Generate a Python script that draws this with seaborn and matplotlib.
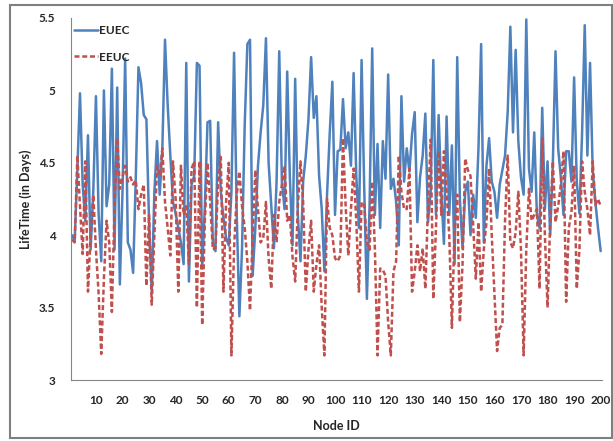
import matplotlib
matplotlib.use("Agg")
import matplotlib.pyplot as plt
import seaborn as sns
import pandas as pd
from matplotlib.patches import Rectangle
from matplotlib.ticker import FuncFormatter

node_ids = list(range(1, 201))

euec = [
    4.00, 3.96, 4.45, 4.98, 4.35, 4.10, 4.69, 3.90, 4.30, 4.96,
    4.15, 3.82, 5.00, 4.20, 4.35, 5.15, 3.90, 5.02, 3.66, 4.30,
    5.22, 3.95, 3.90, 3.74, 4.40, 5.16, 5.05, 4.83, 4.80, 4.09,
    3.61, 4.30, 4.65, 4.28, 4.60, 5.35, 4.90, 4.55, 4.23, 4.15,
    4.05, 3.95, 3.80, 5.19, 3.68, 4.35, 4.41, 5.19, 5.17, 3.77,
    4.20, 4.78, 4.79, 3.95, 3.89, 4.78, 4.30, 4.12, 3.98, 3.93,
    4.30, 5.26, 4.14, 3.44, 3.91, 4.76, 5.32, 5.35, 3.72, 4.05,
    4.48, 4.71, 4.90, 5.36, 4.50, 4.20, 3.91, 4.37, 5.27, 4.37,
    4.18, 5.13, 4.40, 3.93, 5.08, 4.14, 3.82, 4.37, 4.55, 4.80,
    5.23, 4.81, 4.96, 4.41, 4.18, 3.75, 4.28, 4.70, 5.06, 4.14,
    4.58, 4.59, 4.94, 4.60, 4.71, 4.48, 5.12, 4.41, 4.05, 5.21,
    4.32, 3.56, 4.20, 5.29, 4.14, 4.63, 4.05, 4.65, 4.39, 5.11,
    4.32, 4.39, 4.23, 3.93, 4.96, 4.37, 4.60, 4.44, 4.70, 4.85,
    4.09, 4.40, 4.55, 4.84, 4.09, 4.30, 5.21, 4.14, 4.83, 4.30,
    3.94, 4.82, 4.14, 4.62, 3.80, 5.23, 4.25, 3.91, 4.30, 4.37,
    4.00, 4.28, 4.12, 4.60, 5.32, 3.95, 4.48, 4.67, 4.37, 4.30,
    4.12, 4.35, 4.45, 4.55, 4.85, 5.44, 4.71, 5.28, 4.65, 4.40,
    4.28, 5.49, 4.46, 4.30, 4.71, 4.14, 4.05, 4.88, 4.18, 4.51,
    4.00, 4.50, 5.27, 4.60, 4.40, 4.14, 4.58, 4.58, 4.37, 5.09,
    4.37, 4.15, 4.70, 5.45, 4.55, 5.19, 4.45, 4.23, 4.05, 3.89,
]

eeuc = [
    3.97, 3.95, 4.55, 4.20, 3.87, 4.51, 3.61, 4.00, 4.28, 3.90,
    3.60, 3.18, 3.70, 4.10, 3.95, 3.47, 4.20, 4.67, 4.32, 4.40,
    4.48, 4.37, 4.40, 4.35, 4.38, 4.18, 4.28, 4.35, 3.65, 4.14,
    3.52, 4.00, 4.48, 4.41, 4.60, 4.23, 4.05, 3.86, 4.51, 4.25,
    3.61, 4.48, 4.14, 4.20, 3.80, 4.46, 4.51, 3.50, 4.51, 3.38,
    4.10, 4.50, 4.23, 3.90, 3.91, 4.37, 4.54, 3.61, 4.23, 4.50,
    3.17, 3.91, 4.28, 4.44, 4.20, 4.05, 3.82, 3.48, 4.00, 4.45,
    4.18, 3.95, 3.98, 4.23, 3.84, 3.63, 4.14, 3.95, 4.23, 4.35,
    4.48, 4.10, 4.14, 3.85, 3.68, 4.20, 4.51, 4.23, 3.61, 3.90,
    4.10, 3.61, 3.80, 3.93, 3.50, 3.17, 4.25, 4.05, 4.00, 3.84,
    3.82, 3.86, 4.67, 4.20, 3.86, 4.18, 4.46, 4.10, 3.61, 4.23,
    4.21, 3.95, 3.90, 4.37, 3.91, 3.17, 3.77, 3.76, 3.72, 3.40,
    3.17, 3.75, 3.82, 4.55, 4.30, 4.18, 4.18, 4.46, 3.61, 3.75,
    3.93, 3.75, 3.91, 3.63, 4.20, 4.66, 3.56, 4.05, 4.58, 4.14,
    4.58, 4.30, 4.00, 3.36, 4.05, 4.28, 3.40, 3.80, 4.53, 4.45,
    4.41, 4.07, 3.70, 4.09, 3.61, 3.90, 4.09, 4.46, 4.00, 3.60,
    3.20, 3.36, 3.38, 4.10, 4.55, 3.95, 3.91, 4.02, 4.30, 3.90,
    3.17, 3.90, 4.32, 4.10, 4.14, 4.18, 3.63, 4.67, 4.00, 3.50,
    4.10, 4.51, 4.09, 4.20, 4.35, 4.58, 3.54, 4.05, 4.16, 4.48,
    3.63, 3.90, 4.51, 4.30, 4.18, 4.00, 4.51, 4.21, 4.25, 4.20,
]

series_names = ["EUEC", "EEUC"]
x_ticks = list(range(10, 201, 10))
y_ticks = [3, 3.5, 4, 4.5, 5, 5.5]
x_label = "Node ID"
y_label = "LifeTime (in Days)"

sns.set_theme(style="white")
plt.rcParams["font.family"] = ["Lato", "DejaVu Sans"]

W, H = 613, 441
fig = plt.figure(figsize=(W / 100, H / 100), dpi=100)
ax = fig.add_axes([70.7 / W, 1 - 380 / H, (602 - 70.7) / W, (380 - 18) / H])

df = pd.DataFrame({
    "Node ID": node_ids + node_ids,
    "LifeTime": euec + eeuc,
    "Series": [series_names[0]] * len(euec) + [series_names[1]] * len(eeuc),
})

sns.lineplot(
    data=df, x="Node ID", y="LifeTime", hue="Series", style="Series",
    palette={"EUEC": "#4F81BD", "EEUC": "#C0504D"},
    dashes={"EUEC": "", "EEUC": (2.0, 1.1)},
    linewidth=1.8, ax=ax,
)
for ln in ax.get_lines():
    ln.set_solid_joinstyle("round")
    ln.set_dash_joinstyle("round")

ax.set_xlim(0.5, 200.5)
ax.set_ylim(3, 5.5)
ax.set_xticks(x_ticks)
ax.set_yticks(y_ticks)
ax.yaxis.set_major_formatter(FuncFormatter(lambda v, p: f"{v:g}"))

for s in ["top", "right"]:
    ax.spines[s].set_visible(False)
for s in ["left", "bottom"]:
    ax.spines[s].set_color("#868686")
    ax.spines[s].set_linewidth(0.8)

ax.tick_params(axis="both", which="both", direction="out", length=3,
               width=0.8, color="#868686", labelsize=8.5, labelcolor="#262626")
ax.tick_params(axis="x", pad=8)
ax.tick_params(axis="y", pad=8)
for lab in ax.get_xticklabels() + ax.get_yticklabels():
    lab.set_fontweight("bold")

ax.set_xlabel(x_label, fontsize=9, fontweight="bold", color="#262626", labelpad=10)
ax.set_ylabel(y_label, fontsize=9, fontweight="bold", color="#262626", labelpad=5)

leg = ax.legend(loc="upper left", bbox_to_anchor=(0.0, 0.99), frameon=False,
                handlelength=2.0, handletextpad=0.1, labelspacing=1.3,
                borderaxespad=0.3, borderpad=0.0,
                prop={"weight": "bold", "size": 8.5})
for t in leg.get_texts():
    t.set_color("#262626")

border = Rectangle((10 / W, 3 / H), (W - 11) / W, (H - 8) / H,
                   transform=fig.transFigure, fill=False,
                   edgecolor="#7F7F7F", linewidth=1.5)
fig.patches.append(border)

fig.savefig("out.png", dpi=100)
